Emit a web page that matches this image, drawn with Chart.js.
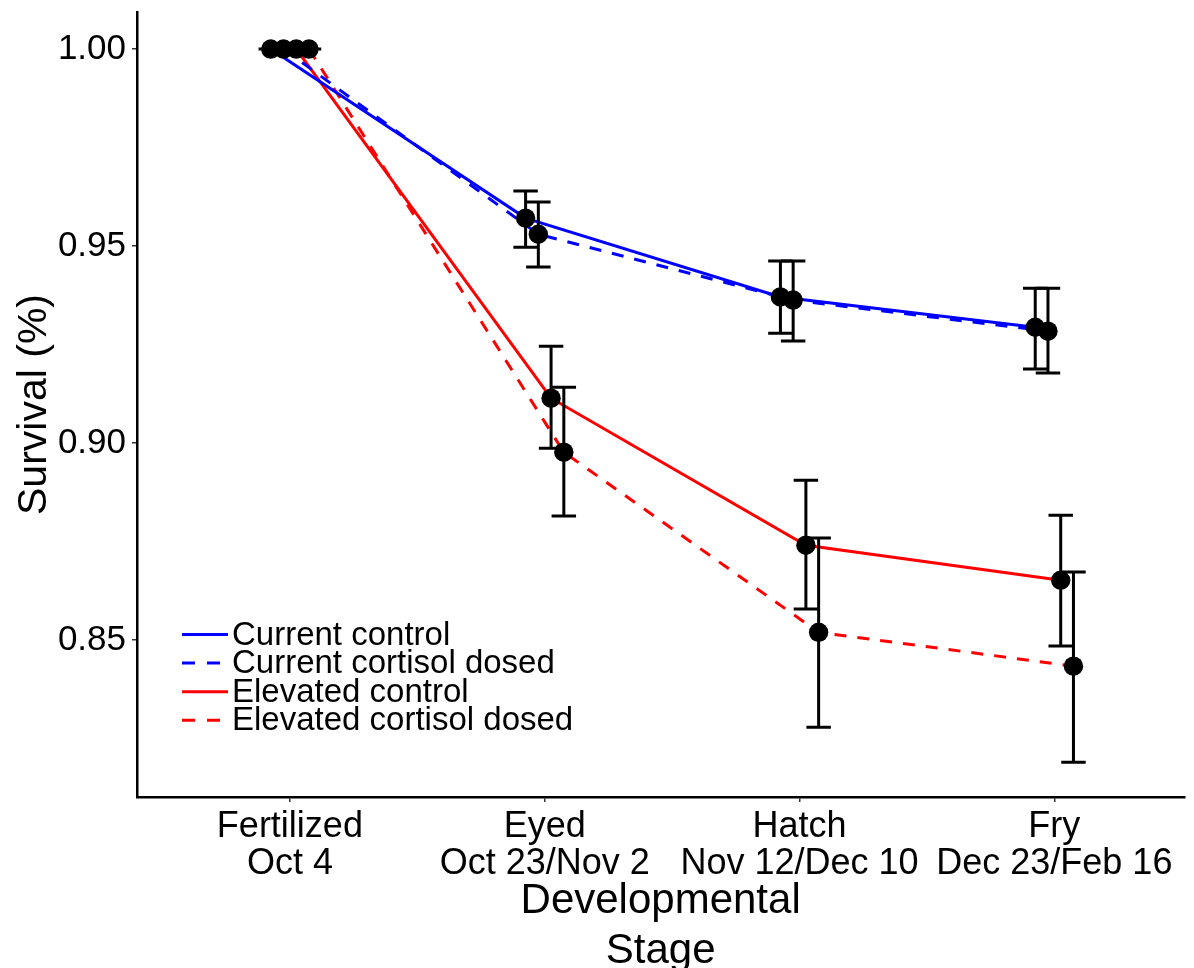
<!DOCTYPE html>
<html>
<head>
<meta charset="utf-8">
<script src="https://cdn.jsdelivr.net/npm/chart.js@4.4.1/dist/chart.umd.min.js"></script>
<style>
  html, body { margin: 0; padding: 0; background: #ffffff; }
  #wrap { width: 1194px; height: 968px; }
</style>
</head>
<body>
<div id="wrap"><canvas id="c" width="1194" height="968"></canvas></div>
<script>
// ---- data ----
const stageLabels = [["Fertilized", "Oct 4"], ["Eyed", "Oct 23/Nov 2"], ["Hatch", "Nov 12/Dec 10"], ["Fry", "Dec 23/Feb 16"]];
const seriesNames = ["Current control", "Current cortisol dosed", "Elevated control", "Elevated cortisol dosed"];
const dodgeOffsets = [-0.075, -0.025, 0.025, 0.075];

const currentControl = [1.000, 0.9571, 0.9371, 0.9294];
const currentControlLow = [1.000, 0.9497, 0.9279, 0.9188];
const currentControlHigh = [1.000, 0.9640, 0.9462, 0.9393];

const currentCortisol = [1.000, 0.9530, 0.9363, 0.9284];
const currentCortisolLow = [1.000, 0.9447, 0.9259, 0.9178];
const currentCortisolHigh = [1.000, 0.9612, 0.9462, 0.9393];

const elevatedControl = [1.000, 0.9114, 0.8741, 0.8652];
const elevatedControlLow = [1.000, 0.8987, 0.8579, 0.8485];
const elevatedControlHigh = [1.000, 0.9246, 0.8906, 0.8817];

const elevatedCortisol = [1.000, 0.8977, 0.8520, 0.8434];
const elevatedCortisolLow = [1.000, 0.8815, 0.8279, 0.8190];
const elevatedCortisolHigh = [1.000, 0.9142, 0.8759, 0.8673];

const yTicks = [0.85, 0.90, 0.95, 1.00];

// ---- build ----
const means = [currentControl, currentCortisol, elevatedControl, elevatedCortisol];
const lows = [currentControlLow, currentCortisolLow, elevatedControlLow, elevatedCortisolLow];
const highs = [currentControlHigh, currentCortisolHigh, elevatedControlHigh, elevatedCortisolHigh];
const colors = ["#0000ff", "#0000ff", "#ff0000", "#ff0000"];
const dashes = [[], [12, 11], [], [12, 11]];
const FONT = "'Liberation Sans', Arial, sans-serif";

function pts(s) { return means[s].map((v, i) => ({ x: i + dodgeOffsets[s], y: v })); }

const datasets = [];
for (let s = 0; s < 4; s++) {
  datasets.push({
    type: 'line', label: seriesNames[s], data: pts(s),
    borderColor: colors[s], borderWidth: 3, borderDash: dashes[s],
    pointRadius: 0, fill: false, tension: 0, order: 2, isLine: true
  });
}
for (let s = 0; s < 4; s++) {
  datasets.push({
    type: 'scatter', label: seriesNames[s] + ' points', data: pts(s),
    backgroundColor: '#000000', borderColor: '#000000', borderWidth: 0,
    pointRadius: 9.7, pointHoverRadius: 9.7, order: 0, isLine: false
  });
}

let errDrawn = false;
const errorBars = {
  id: 'errorBars',
  beforeDraw() { errDrawn = false; },
  beforeDatasetDraw(chart, args) {
    if (errDrawn || chart.data.datasets[args.index].isLine) return;
    errDrawn = true;
    const xs = chart.scales.x, ys = chart.scales.y, ctx = chart.ctx;
    const halfCap = 0.048;
    ctx.save();
    ctx.strokeStyle = '#000000';
    ctx.lineWidth = 3;
    ctx.lineCap = 'butt';
    for (let s = 0; s < 4; s++) {
      for (let i = 0; i < means[s].length; i++) {
        const xc = i + dodgeOffsets[s];
        const px = xs.getPixelForValue(xc);
        const pl = xs.getPixelForValue(xc - halfCap);
        const pr = xs.getPixelForValue(xc + halfCap);
        const yl = ys.getPixelForValue(lows[s][i]);
        const yh = ys.getPixelForValue(highs[s][i]);
        ctx.beginPath();
        ctx.moveTo(px, yl); ctx.lineTo(px, yh);
        ctx.moveTo(pl, yl); ctx.lineTo(pr, yl);
        ctx.moveTo(pl, yh); ctx.lineTo(pr, yh);
        ctx.stroke();
      }
    }
    ctx.restore();
  }
};

const legendPlugin = {
  id: 'customLegend',
  afterDraw(chart) {
    const ctx = chart.ctx;
    const x0 = 182, x1 = 228, tx = 232, y0 = 634.5, dy = 28.6;
    ctx.save();
    ctx.font = "33px " + FONT;
    ctx.textBaseline = 'middle';
    ctx.fillStyle = '#000000';
    for (let s = 0; s < 4; s++) {
      const y = y0 + s * dy;
      ctx.strokeStyle = colors[s];
      ctx.lineWidth = 3;
      ctx.setLineDash(dashes[s].length ? [13, 12] : []);
      ctx.beginPath(); ctx.moveTo(x0, y); ctx.lineTo(x1, y); ctx.stroke();
      ctx.setLineDash([]);
      ctx.fillText(seriesNames[s], tx, y + 1);
    }
    ctx.restore();
  }
};

new Chart(document.getElementById('c'), {
  data: { datasets },
  options: {
    responsive: false,
    animation: false,
    layout: { padding: { top: 12, right: 0, left: 0, bottom: 0 } },
    plugins: { legend: { display: false }, tooltip: { enabled: false } },
    scales: {
      x: {
        type: 'linear', min: -0.6, max: 3.51,
        afterBuildTicks(scale) { scale.ticks = stageLabels.map((_, i) => ({ value: i })); },
        afterFit(scale) { scale.height = 171; scale.paddingLeft = 0; scale.paddingRight = 0; },
        ticks: {
          callback: (v) => stageLabels[Math.round(v)] || '',
          font: { family: FONT, size: 36, lineHeight: 1.02 },
          color: '#000000', padding: 7, maxRotation: 0, autoSkip: false
        },
        grid: { display: true, drawOnChartArea: false, drawTicks: true, tickLength: 5, color: '#333333', lineWidth: 1.5 },
        border: { display: true, color: '#000000', width: 2.5 },
        title: {
          display: true, text: ["Developmental", "Stage"], color: '#000000',
          font: { family: FONT, size: 42, lineHeight: 1.2 }, padding: { top: 0, bottom: -9 }
        }
      },
      y: {
        type: 'linear', min: 0.8102, max: 1.0094,
        afterBuildTicks(scale) { scale.ticks = yTicks.map(v => ({ value: v })); },
        afterFit(scale) { scale.width = 137; scale.paddingTop = 0; scale.paddingBottom = 0; },
        ticks: {
          callback: (v) => v.toFixed(2),
          font: { family: FONT, size: 35 }, color: '#000000', padding: 6
        },
        grid: { display: true, drawOnChartArea: false, drawTicks: true, tickLength: 5, color: '#333333', lineWidth: 1.5 },
        border: { display: true, color: '#000000', width: 2.5 },
        title: {
          display: true, text: "Survival (%)", color: '#000000',
          font: { family: FONT, size: 41, lineHeight: 1.2 }, padding: { top: 10, bottom: 0 }
        }
      }
    }
  },
  plugins: [errorBars, legendPlugin]
});
</script>
</body>
</html>
